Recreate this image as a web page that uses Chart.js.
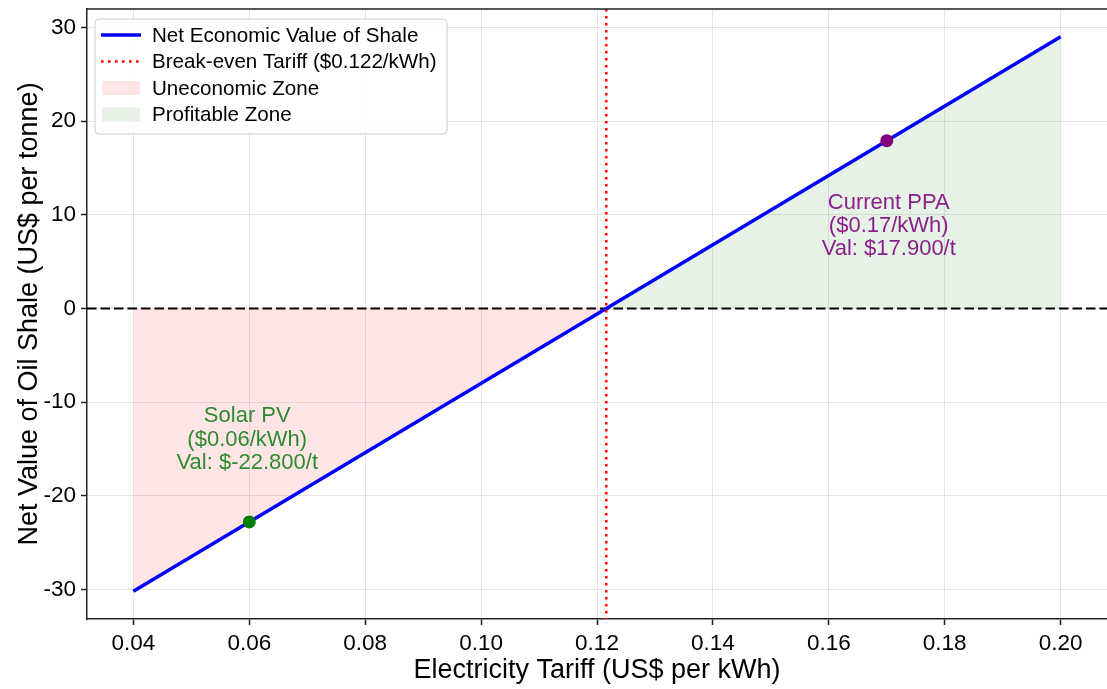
<!DOCTYPE html>
<html>
<head>
<meta charset="utf-8">
<script src="https://cdn.jsdelivr.net/npm/chart.js@4.4.1/dist/chart.umd.min.js"></script>
<style>
  html, body { margin: 0; padding: 0; background: #fff; }
  #wrap { width: 1107px; height: 689px; }
</style>
</head>
<body>
<div id="wrap"><canvas id="myChart" width="1107" height="689"></canvas></div>
<script>
// dados
const tariffs = [0.04, 0.06, 0.1216, 0.17, 0.20];       // US$ per kWh
const netValues = [-30.2, -22.8, 0, 17.9, 29.0];         // US$ per tonne
const breakEven = 0.1216;
const xTicks = [0.04, 0.06, 0.08, 0.10, 0.12, 0.14, 0.16, 0.18, 0.20];
const yTicks = [-30, -20, -10, 0, 10, 20, 30];

const solarTariff = 0.06, solarValue = -22.8;
const ppaTariff = 0.17, ppaValue = 17.9;

const FONT = "'Liberation Sans', Arial, Helvetica, sans-serif";

const linePts = tariffs.map((t, i) => ({ x: t, y: netValues[i] }));
const unecoPts = linePts.filter(p => p.x <= breakEven);
const profitPts = linePts.filter(p => p.x >= breakEven);

// linhas de referência, moldura, anotações e legenda
const extras = {
    id: 'extras',
    afterLayout(chart) {
        // a área do gráfico vai até a borda direita, como no original
        const dx = chart.width - chart.chartArea.right;
        if (dx > 0) {
            chart.chartArea.right += dx;
            chart.chartArea.width += dx;
            const s = chart.scales.x;
            s.right += dx;
            s.width += dx;
            s.configure();
        }
    },
    beforeDatasetsDraw(chart) {
        const { ctx, chartArea: a, scales: { y } } = chart;
        ctx.save();
        // linha do zero
        ctx.strokeStyle = '#000';
        ctx.lineWidth = 2;
        ctx.setLineDash([9.5, 4]);
        ctx.beginPath();
        ctx.moveTo(a.left, y.getPixelForValue(0));
        ctx.lineTo(a.right, y.getPixelForValue(0));
        ctx.stroke();
        ctx.restore();
    },
    afterDatasetsDraw(chart) {
        const { ctx, chartArea: a, scales: { x, y } } = chart;
        ctx.save();
        // tarifa de equilíbrio
        ctx.strokeStyle = 'red';
        ctx.lineWidth = 2.5;
        ctx.setLineDash([2.6, 4.4]);
        ctx.beginPath();
        ctx.moveTo(x.getPixelForValue(breakEven), a.top);
        ctx.lineTo(x.getPixelForValue(breakEven), a.bottom);
        ctx.stroke();
        ctx.setLineDash([]);

        // moldura superior
        ctx.strokeStyle = '#222';
        ctx.lineWidth = 1.5;
        ctx.beginPath();
        ctx.moveTo(a.left, a.top);
        ctx.lineTo(a.right, a.top);
        ctx.stroke();

        // anotações
        ctx.font = '22px ' + FONT;
        ctx.textAlign = 'center';
        ctx.textBaseline = 'middle';
        const sx = x.getPixelForValue(solarTariff) - 2;
        const sy = y.getPixelForValue(solarValue);
        ctx.fillStyle = '#2e8b2e';
        ['Solar PV', '($0.06/kWh)', 'Val: $-22.800/t'].forEach((t, i) => {
            ctx.fillText(t, sx, sy - 106 + i * 23.5);
        });
        const px = x.getPixelForValue(ppaTariff) + 2;
        const py = y.getPixelForValue(ppaValue);
        ctx.fillStyle = '#8b1f8b';
        ['Current PPA', '($0.17/kWh)', 'Val: $17.900/t'].forEach((t, i) => {
            ctx.fillText(t, px, py + 62 + i * 23);
        });
        ctx.restore();
    },
    afterDraw(chart) {
        const { ctx, chartArea: a } = chart;
        const bx = a.left + 8, by = a.top + 10, bw = 352, bh = 115;
        ctx.save();
        ctx.fillStyle = 'rgba(255,255,255,0.85)';
        ctx.strokeStyle = '#cccccc';
        ctx.lineWidth = 1;
        ctx.beginPath();
        ctx.roundRect(bx, by, bw, bh, 4);
        ctx.fill();
        ctx.stroke();

        const rows = [by + 16, by + 42.5, by + 69, by + 95.5];
        const x0 = bx + 6, x1 = bx + 46, tx = bx + 57;
        // linha azul
        ctx.strokeStyle = 'blue';
        ctx.lineWidth = 3.5;
        ctx.beginPath(); ctx.moveTo(x0, rows[0]); ctx.lineTo(x1, rows[0]); ctx.stroke();
        // pontilhado vermelho
        ctx.strokeStyle = 'red';
        ctx.lineWidth = 2.5;
        ctx.setLineDash([2.6, 4.4]);
        ctx.beginPath(); ctx.moveTo(x0, rows[1]); ctx.lineTo(x1, rows[1]); ctx.stroke();
        ctx.setLineDash([]);
        // áreas
        ctx.fillStyle = 'rgba(255,0,0,0.1)';
        ctx.fillRect(x0 + 1, rows[2] - 7, 38, 14);
        ctx.fillStyle = 'rgba(0,128,0,0.1)';
        ctx.fillRect(x0 + 1, rows[3] - 7, 38, 14);

        ctx.fillStyle = '#000';
        ctx.font = '20.6px ' + FONT;
        ctx.textAlign = 'left';
        ctx.textBaseline = 'middle';
        ['Net Economic Value of Shale', 'Break-even Tariff ($0.122/kWh)', 'Uneconomic Zone', 'Profitable Zone']
            .forEach((t, i) => ctx.fillText(t, tx, rows[i] + 1));
        ctx.restore();
    }
};

const ctx = document.getElementById('myChart');

new Chart(ctx, {
    type: 'line',
    data: {
        datasets: [
            {
                label: 'Solar PV',
                data: [{ x: solarTariff, y: solarValue }],
                showLine: false,
                pointRadius: 6.5,
                pointBackgroundColor: 'green',
                pointBorderWidth: 0,
                order: 0
            },
            {
                label: 'Current PPA',
                data: [{ x: ppaTariff, y: ppaValue }],
                showLine: false,
                pointRadius: 6.5,
                pointBackgroundColor: 'purple',
                pointBorderWidth: 0,
                order: 0
            },
            {
                label: 'Net Economic Value of Shale',
                data: linePts,
                borderColor: 'blue',
                borderWidth: 3.5,
                pointRadius: 0,
                tension: 0,
                fill: false,
                order: 1
            },
            {
                label: 'Uneconomic Zone',
                data: unecoPts,
                borderWidth: 0,
                pointRadius: 0,
                backgroundColor: 'rgba(255,0,0,0.1)',
                fill: 'origin',
                order: 2
            },
            {
                label: 'Profitable Zone',
                data: profitPts,
                borderWidth: 0,
                pointRadius: 0,
                backgroundColor: 'rgba(0,128,0,0.1)',
                fill: 'origin',
                order: 2
            }
        ]
    },
    options: {
        responsive: false,
        devicePixelRatio: 1,
        animation: false,
        layout: { padding: { top: 9, left: 0, right: 0, bottom: 0 } },
        plugins: {
            legend: { display: false },
            tooltip: { enabled: false }
        },
        scales: {
            x: {
                type: 'linear',
                min: 0.032,
                max: 0.208,
                afterBuildTicks: s => { s.ticks = xTicks.map(v => ({ value: v })); },
                afterFit: s => { s.height = 70; s.paddingLeft = 0; s.paddingRight = 0; },
                ticks: {
                    color: '#000',
                    padding: 5,
                    maxRotation: 0,
                    autoSkip: false,
                    font: { size: 22.5, family: FONT },
                    callback: v => Number(v).toFixed(2)
                },
                grid: { color: 'rgba(0,0,0,0.1)', tickColor: '#222', tickLength: 6, tickWidth: 1.5 },
                border: { color: '#222', width: 1.5 },
                title: {
                    display: true,
                    text: 'Electricity Tariff (US$ per kWh)',
                    color: '#000',
                    font: { size: 27, family: FONT },
                    padding: { top: 0, bottom: 2 }
                }
            },
            y: {
                min: -33.16,
                max: 31.96,
                afterBuildTicks: s => { s.ticks = yTicks.map(v => ({ value: v })); },
                afterFit: s => { s.width = 87; s.paddingTop = 0; s.paddingBottom = 0; },
                ticks: {
                    color: '#000',
                    padding: 5,
                    font: { size: 22.5, family: FONT },
                    callback: v => String(v)
                },
                grid: { color: 'rgba(0,0,0,0.1)', tickColor: '#222', tickLength: 6, tickWidth: 1.5 },
                border: { color: '#222', width: 1.5 },
                title: {
                    display: true,
                    text: 'Net Value of Oil Shale (US$ per tonne)',
                    color: '#000',
                    font: { size: 27, family: FONT },
                    padding: { top: 13, bottom: 0 }
                }
            }
        }
    },
    plugins: [extras]
});
</script>
</body>
</html>
